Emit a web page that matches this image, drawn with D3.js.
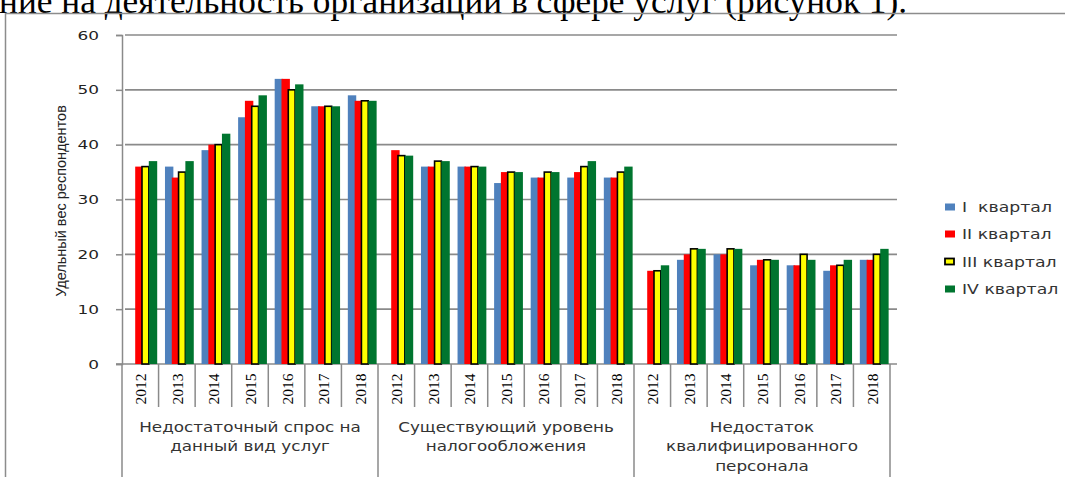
<!DOCTYPE html>
<html><head><meta charset="utf-8">
<script src="https://cdn.jsdelivr.net/npm/d3@7"></script>
<style>
html,body{margin:0;padding:0;background:#fff;overflow:hidden}
svg{display:block}
</style></head>
<body>
<svg id="c" width="1065" height="477"></svg>
<script>
const groups = ["Недостаточный спрос на данный вид услуг", "Существующий уровень налогообложения", "Недостаток квалифицированного персонала"];
const groupLines = [["Недостаточный спрос на", "данный вид услуг"], ["Существующий уровень", "налогообложения"], ["Недостаток", "квалифицированного", "персонала"]];
const years = ["2012", "2013", "2014", "2015", "2016", "2017", "2018"];
const seriesNames = ["I  квартал", "II квартал", "III квартал", "IV квартал"];
const seriesColors = ["#4F81BD", "#FF0000", "#FFFF00", "#00752F"];
const yTicks = [0, 10, 20, 30, 40, 50, 60];
const yLabel = "Удельный вес респондентов";
const headerText = "ние на деятельность организаций в сфере услуг (рисунок 1).";

// values per series: 21 entries (3 groups × 7 years)
const q1 = [0, 36, 39, 45, 52, 47, 49,   0, 36, 36, 33, 34, 34, 34,   0, 19, 20, 18, 18, 17, 19];
const q2 = [36, 34, 40, 48, 52, 47, 48,  39, 36, 36, 35, 34, 35, 34,  17, 20, 20, 19, 18, 18, 19];
const q3 = [36, 35, 40, 47, 50, 47, 48,  38, 37, 36, 35, 35, 36, 35,  17, 21, 21, 19, 20, 18, 20];
const q4 = [37, 37, 42, 49, 51, 47, 48,  38, 37, 36, 35, 35, 37, 36,  18, 21, 21, 19, 19, 19, 21];
const series = [q1, q2, q3, q4];

const svg = d3.select("#c");
const SANS = "DejaVu Sans, Verdana, sans-serif";

// header text (cropped at top, as in the reference)
svg.append("text").attr("x", -1).attr("y", 13)
  .attr("font-family", "Liberation Serif, Times New Roman, serif")
  .attr("font-size", 35.3).attr("fill", "#000").text(headerText);

// frame
svg.append("path").attr("d", "M5.5,480 L5.5,13.5 L1070,13.5")
  .attr("fill", "none").attr("stroke", "#8c8c8c").attr("stroke-width", 1.5);

const x0 = 122, x1 = 890, yBase = 364, yTop = 35;
const cats = [];
groups.forEach((g, gi) => years.forEach((yr, yi) => cats.push(gi + "|" + yr)));

const xCat = d3.scaleBand().domain(cats).range([x0, x1]).padding(0);
const xSer = d3.scaleBand().domain(d3.range(4)).range([6.4, 6.4 + 4 * 6.8]).padding(0);
const y = d3.scaleLinear().domain([0, 60]).range([yBase, yTop]);

// gridlines
svg.append("g").selectAll("line").data(yTicks.filter(d => d > 0)).join("line")
  .attr("x1", x0 + 3).attr("x2", 897)
  .attr("y1", d => y(d)).attr("y2", d => y(d))
  .attr("stroke", "#8a8a8a").attr("stroke-width", 1.6);

// y axis
const yAxis = d3.axisLeft(y).tickValues(yTicks).tickSize(6);
const ya = svg.append("g").attr("transform", `translate(${x0},0)`).call(yAxis);
ya.select(".domain").attr("stroke", "#8a8a8a").attr("stroke-width", 1.5);
ya.selectAll(".tick line").attr("stroke", "#8a8a8a").attr("stroke-width", 1.5);
ya.selectAll(".tick text").attr("font-family", SANS)
  .attr("font-size", 13).attr("fill", "#222")
  .attr("x", 0).attr("transform", "translate(-23,0) scale(1.3,1)");

// floor line
svg.append("line").attr("x1", x0 - 6).attr("x2", 897).attr("y1", yBase).attr("y2", yBase)
  .attr("stroke", "#8a8a8a").attr("stroke-width", 1.5);

// y label
svg.append("text").attr("transform", `translate(66,${(105 + 297) / 2}) rotate(-90)`)
  .attr("text-anchor", "middle")
  .attr("font-family", "Liberation Sans Narrow, Arial Narrow, sans-serif")
  .attr("font-size", 14.5).attr("fill", "#222").text(yLabel);

// bars
const bw = 8.4;
const bars = svg.append("g");
series.forEach((vals, si) => {
  bars.append("g").selectAll("rect").data(vals.map((v, i) => ({ v, c: cats[i] }))).join("rect")
    .attr("x", d => xCat(d.c) + xSer(si))
    .attr("y", d => y(d.v))
    .attr("width", si === 2 ? bw - 1.6 : bw)
    .attr("height", d => Math.max(0, y(0) - y(d.v)))
    .attr("fill", seriesColors[si])
    .attr("stroke", si === 2 ? "#000" : "none")
    .attr("stroke-width", si === 2 ? 1.6 : 0);
});

// x category separators (year level)
const sepYears = [];
cats.forEach((c, i) => { if (i > 0 && i % 7 !== 0) sepYears.push(c); });
svg.append("g").selectAll("line").data(sepYears).join("line")
  .attr("x1", d => xCat(d)).attr("x2", d => xCat(d))
  .attr("y1", yBase).attr("y2", 407)
  .attr("stroke", "#8a8a8a").attr("stroke-width", 1.5);
// group separators
const groupEdges = [0, 7, 14].map(i => xCat(cats[i])).concat([x1]);
svg.append("g").selectAll("line").data(groupEdges).join("line")
  .attr("x1", d => d).attr("x2", d => d)
  .attr("y1", yBase).attr("y2", 480)
  .attr("stroke", "#8a8a8a").attr("stroke-width", 1.5);

// year labels
svg.append("g").selectAll("text").data(cats).join("text")
  .attr("transform", d => `translate(${xCat(d) + xCat.bandwidth() / 2 + 6},389) rotate(-90)`)
  .attr("text-anchor", "middle")
  .attr("font-family", "Liberation Serif, Times New Roman, serif")
  .attr("font-size", 15.5).attr("fill", "#000")
  .text(d => d.split("|")[1]);

// group labels
groupLines.forEach((lines, gi) => {
  const cx = (groupEdges[gi] + groupEdges[gi + 1]) / 2;
  const t = svg.append("text").attr("text-anchor", "middle")
    .attr("transform", `translate(${cx},0) scale(1.2,1)`)
    .attr("font-family", SANS)
    .attr("font-size", 14).attr("fill", "#333");
  lines.forEach((ln, li) => {
    t.append("tspan").attr("x", 0).attr("y", 432 + li * 19.5).text(ln);
  });
});

// legend
const legendY = [207, 234, 262, 289];
const lg = svg.append("g");
seriesNames.forEach((n, i) => {
  const yy = legendY[i];
  lg.append("rect").attr("x", 945).attr("y", yy - 3.5).attr("width", i === 2 ? 9 : 10).attr("height", i === 2 ? 6 : 7)
    .attr("fill", seriesColors[i]).attr("stroke", i === 2 ? "#000" : "none").attr("stroke-width", 1.8);
  lg.append("text").attr("transform", `translate(962,${yy + 5}) scale(1.28,1)`)
    .attr("font-family", SANS)
    .attr("font-size", 13.5).attr("fill", "#333")
    .style("white-space", "pre").text(n);
});
</script>
</body></html>
